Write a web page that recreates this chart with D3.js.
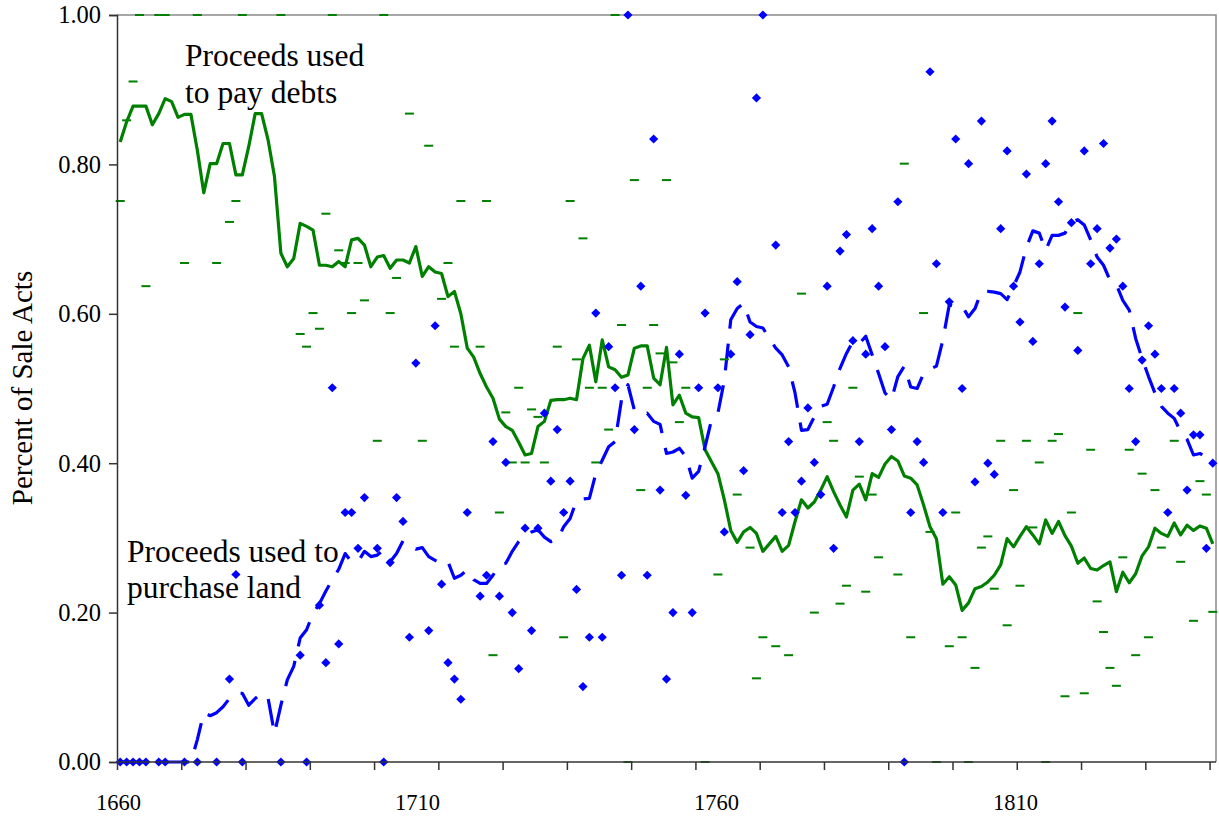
<!DOCTYPE html>
<html><head><meta charset="utf-8">
<script src="https://cdn.jsdelivr.net/npm/d3@7"></script>
<style>body{margin:0;background:#fff}</style>
</head><body>
<svg id="chart" width="1219" height="816"></svg>
<script>
// ---- data (one category per year slot on the chart's category axis) ----
const categoryCount = 171;
const xTickLabels = [1660, 1710, 1760, 1810];
const yTicks = [0, 0.2, 0.4, 0.6, 0.8, 1.0];

// share of sale acts whose proceeds paid debts (green dash markers)
const debtsShare = [
 0.751,0.859,0.911,1,0.637,null,1,1,null,null,
 0.668,null,1,null,null,0.668,null,0.723,0.751,1,
 null,null,null,null,null,1,null,null,0.573,0.556,
 0.601,0.580,0.734,1,0.685,0.668,0.601,0.668,0.618,null,
 0.430,1,0.601,0.648,null,0.868,null,0.430,0.825,null,
 0.620,0.668,0.556,0.751,null,null,0.556,0.751,0.143,0.334,
 0.468,0.401,0.501,0.401,0.472,0.462,0.401,null,0.556,0.167,
 0.751,0.539,0.701,0.501,0.401,0.501,0.445,1,0.585,0,
 0.779,0.364,0.501,0.585,0.547,0.779,0.535,0.455,0.501,null,
 null,0,null,0.251,0.539,null,0.358,null,0.287,0.112,
 0.167,null,0.155,null,0.143,null,0.627,null,0.200,null,
 0.455,0.430,0.212,0.236,0.501,0.382,0.228,0.358,0.274,null,
 null,0.251,0.801,0.167,null,0.601,0.308,0,null,0.155,
 0.334,0.167,0,0.126,0.287,0.302,0.232,0.430,0.183,0.364,
 0.236,0.430,0.314,0.401,0,0.430,0.439,0.088,0.334,0.601,
 0.092,0.418,0.215,0.174,0.126,0.102,0.274,0.418,0.143,0.386,
 0.167,0.364,0.287,null,0.430,0.268,null,0.189,0.376,0.358,
 0.201
];

// share of sale acts whose proceeds purchased land (blue diamonds)
const landShare = [
 0,0,0,0,0,null,0,0,null,null,
 0,null,0,null,null,0,null,0.111,0.251,0,
 null,null,null,null,null,0,null,null,0.143,0,
 null,0.210,0.133,0.501,0.158,0.334,0.334,0.286,0.354,null,
 0.286,0,0.267,0.354,0.322,0.167,0.534,null,0.176,0.584,
 0.238,0.133,0.111,0.084,0.334,null,0.222,0.250,0.429,0.222,
 0.401,0.200,0.125,0.313,0.176,0.313,0.467,0.376,0.445,0.334,
 0.376,0.231,0.101,0.167,0.601,0.167,0.556,0.501,0.250,1,
 0.445,0.637,0.250,0.834,0.364,0.111,0.200,0.546,0.357,0.200,
 0.501,0.601,null,0.501,0.308,0.546,0.643,0.390,0.572,0.889,
 1,null,0.692,0.334,0.429,0.334,0.376,0.474,0.401,0.358,
 0.637,0.286,0.684,0.706,0.564,0.429,0.546,0.714,0.637,0.556,
 0.445,0.750,0,0.334,0.429,0.401,0.924,0.667,0.334,0.616,
 0.834,0.500,0.801,0.375,0.858,0.400,0.385,0.714,0.818,0.637,
 0.589,0.787,0.563,0.667,0.801,0.858,0.750,0.609,0.722,0.551,
 0.818,0.667,0.714,0.828,0.688,0.700,0.637,0.500,0.429,0.538,
 0.584,0.546,0.500,0.334,0.500,0.467,0.364,0.438,0.438,0.286,
 0.400
];

// smoothed (moving average) debts share - solid green line
const debtsAvg = [
 0.830,0.857,0.878,0.878,0.878,0.853,0.868,0.888,0.884,0.863,
 0.867,0.867,0.819,0.762,0.801,0.801,0.828,0.828,0.786,0.786,
 0.824,0.868,0.868,0.833,0.784,0.681,0.663,0.674,0.721,0.717,
 0.712,0.665,0.665,0.663,0.670,0.663,0.699,0.701,0.692,0.663,
 0.676,0.678,0.661,0.672,0.672,0.668,0.690,0.650,0.663,0.656,
 0.654,0.623,0.630,0.600,0.554,0.542,0.520,0.502,0.487,0.459,
 0.449,0.444,0.428,0.411,0.413,0.449,0.456,0.484,0.485,0.485,
 0.487,0.485,0.540,0.558,0.509,0.565,0.529,0.525,0.515,0.518,
 0.554,0.557,0.557,0.514,0.505,0.555,0.478,0.491,0.467,0.462,
 0.461,0.418,0.402,0.386,0.351,0.310,0.294,0.308,0.314,0.306,
 0.282,0.292,0.302,0.282,0.290,0.322,0.351,0.340,0.348,0.364,
 0.382,0.362,0.344,0.328,0.364,0.372,0.351,0.386,0.381,0.399,
 0.409,0.403,0.383,0.380,0.371,0.344,0.315,0.299,0.238,0.248,
 0.237,0.203,0.213,0.232,0.235,0.241,0.250,0.264,0.299,0.288,
 0.302,0.315,0.304,0.292,0.324,0.306,0.322,0.303,0.289,0.266,
 0.273,0.259,0.257,0.263,0.268,0.228,0.254,0.240,0.252,0.276,
 0.288,0.313,0.306,0.302,0.320,0.304,0.317,0.310,0.316,0.313,
 0.292
];

// smoothed (moving average) land share - dashed blue line
const landAvg = [
 0,0,0,0,0,0,0,0,0,0,
 0,0,0.030,0.066,0.062,0.066,0.074,0.085,0.092,0.092,
 0.076,0.085,0.092,0.086,0.038,0.076,0.110,0.128,0.166,0.177,
 0.199,0.212,0.229,0.244,0.258,0.279,0.268,0.268,0.282,0.275,
 0.277,0.284,0.268,0.279,0.296,0.290,0.285,0.287,0.275,0.270,
 0.265,0.268,0.246,0.250,0.257,0.244,0.239,0.239,0.250,0.264,
 0.266,0.282,0.295,0.304,0.308,0.311,0.301,0.295,0.297,0.315,
 0.326,0.350,0.352,0.353,0.386,0.404,0.422,0.429,0.485,0.505,
 0.471,0.465,0.467,0.456,0.452,0.413,0.415,0.420,0.409,0.380,
 0.389,0.422,0.458,0.467,0.511,0.592,0.607,0.614,0.589,0.583,
 0.581,0.567,0.554,0.545,0.529,0.494,0.444,0.445,0.462,0.476,
 0.479,0.502,0.527,0.547,0.563,0.560,0.570,0.545,0.520,0.494,
 0.485,0.516,0.530,0.502,0.500,0.520,0.526,0.530,0.565,0.612,
 0.610,0.610,0.596,0.607,0.630,0.630,0.629,0.627,0.619,0.637,
 0.656,0.689,0.711,0.708,0.685,0.705,0.705,0.708,0.723,0.726,
 0.719,0.699,0.676,0.665,0.645,0.639,0.618,0.605,0.567,0.540,
 0.516,0.494,0.476,0.467,0.460,0.442,0.432,0.411,0.413,0.408,
 0.400
];

// ---- drawing ----
const svg = d3.select("#chart");
const W = 1219, H = 816;
const plot = {left: 117, right: 1216, top: 15, bottom: 762};
const FONT = "'Liberation Serif','Times New Roman',serif";
const GREEN = "#008000", BLUE = "#0000ff";

svg.append("rect").attr("width", W).attr("height", H).attr("fill", "#fff");

const x = d3.scaleBand().domain(d3.range(categoryCount)).range([plot.left, plot.right]);
const cx = i => x(i) + x.bandwidth() / 2;
const xIdx = d3.scaleLinear().domain([0, categoryCount]).range([plot.left, plot.right]);
const xLab = d3.scaleLinear().domain([xTickLabels[0], xTickLabels[3]]).range([118, 1015]);
const y = d3.scaleLinear().domain([0, 1]).range([plot.bottom, plot.top]);

// plot frame (top & right in grey)
svg.append("path")
  .attr("d", `M${plot.left},${plot.top}H${plot.right}V${plot.bottom}`)
  .attr("fill", "none").attr("stroke", "#8a8a8a").attr("stroke-width", 1.5);

// lines
const line = d3.line().defined(d => d != null).x((d, i) => cx(i)).y(d => y(d));
svg.append("path").datum(debtsAvg).attr("d", line)
  .attr("fill", "none").attr("stroke", GREEN).attr("stroke-width", 3.2)
  .attr("stroke-linejoin", "round");
svg.append("path").datum(landAvg).attr("d", line)
  .attr("fill", "none").attr("stroke", BLUE).attr("stroke-width", 3.2)
  .attr("stroke-dasharray", "27,15").attr("stroke-linejoin", "round");

// markers
const dIdx = d3.range(categoryCount).filter(i => debtsShare[i] != null);
svg.append("g").selectAll("rect").data(dIdx).join("rect")
  .attr("x", i => cx(i) - 4.5).attr("y", i => y(debtsShare[i]) - 1)
  .attr("width", 9).attr("height", 2).attr("fill", GREEN);
const lIdx = d3.range(categoryCount).filter(i => landShare[i] != null);
svg.append("g").selectAll("path").data(lIdx).join("path")
  .attr("transform", i => `translate(${cx(i)},${y(landShare[i])})`)
  .attr("d", "M0,-4.6L4.6,0L0,4.6L-4.6,0Z").attr("fill", BLUE);

// y axis
const yAxis = svg.append("g").attr("transform", `translate(${plot.left},0)`)
  .call(d3.axisLeft(y).tickValues(yTicks).tickFormat(d3.format(".2f")).tickSize(8).tickPadding(8));
yAxis.select(".domain").attr("stroke", "#333").attr("stroke-width", 1.5);
yAxis.selectAll(".tick line").attr("stroke", "#333").attr("stroke-width", 1.5);
yAxis.selectAll("text").attr("font-family", FONT).attr("font-size", 24.5).attr("fill", "#000");

// x axis: tick marks every 10 categories
const xAxis = svg.append("g").attr("transform", `translate(0,${plot.bottom})`)
  .call(d3.axisBottom(xIdx).tickValues(d3.range(0, categoryCount, 10)).tickSize(8).tickFormat(""));
xAxis.select(".domain").attr("d", `M${plot.left},0H${plot.right}`).attr("stroke", "#333").attr("stroke-width", 1.5);
xAxis.selectAll(".tick line").attr("stroke", "#333").attr("stroke-width", 1.5);

// x labels
const xLabAxis = svg.append("g").attr("transform", `translate(0,${plot.bottom})`)
  .call(d3.axisBottom(xLab).tickValues(xTickLabels).tickSize(0).tickPadding(32).tickFormat(d3.format("d")));
xLabAxis.select(".domain").remove();
xLabAxis.selectAll("text").attr("font-family", FONT).attr("font-size", 22.5).attr("fill", "#000");

// y title
svg.append("text").attr("transform", "translate(32,388) rotate(-90)")
  .attr("text-anchor", "middle").attr("font-family", FONT).attr("font-size", 29)
  .text("Percent of Sale Acts");

// annotations
const ann = [
  {x: 185, y: 66, t: "Proceeds used"},
  {x: 185, y: 103, t: "to pay debts"},
  {x: 127, y: 562, t: "Proceeds used to"},
  {x: 127, y: 598, t: "purchase land"}
];
svg.append("g").selectAll("text").data(ann).join("text")
  .attr("x", d => d.x).attr("y", d => d.y)
  .attr("font-family", FONT).attr("font-size", 31.5).attr("fill", "#000")
  .text(d => d.t);
</script>
</body></html>
